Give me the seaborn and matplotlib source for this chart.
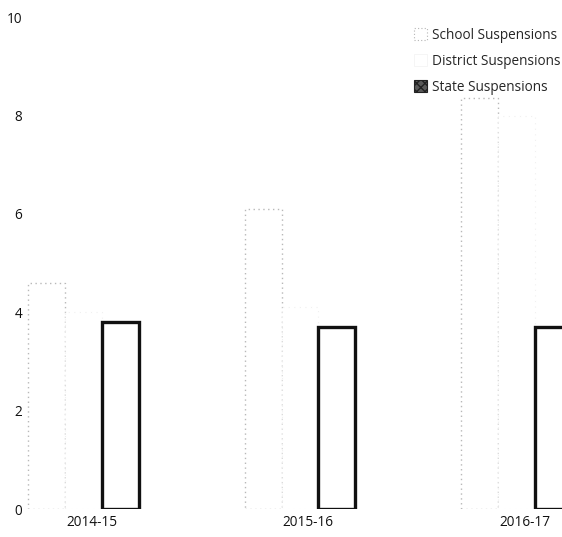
import matplotlib
matplotlib.use("Agg")
import matplotlib.pyplot as plt
import matplotlib.transforms as mtransforms
from matplotlib.patches import Patch
import pandas as pd
import seaborn as sns

# Suspension rates by school year
years = ["2014-15", "2015-16", "2016-17"]
series = ["School Suspensions", "District Suspensions", "State Suspensions"]
school = [4.6, 6.1, 8.35]
district = [4.0, 4.1, 8.0]
state = [3.8, 3.7, 3.7]
y_ticks = [0, 2, 4, 6, 8, 10]

df = pd.DataFrame({
    "Year": years * 3,
    "Series": [s for s in series for _ in years],
    "Rate": school + district + state,
})

sns.set_style("white")
plt.rcParams["font.family"] = ["Open Sans", "DejaVu Sans"]

fig = plt.figure(figsize=(5.62, 5.37), dpi=100)
ax = fig.add_axes([0.0445, 0.052, 0.9555, 0.916])

sns.barplot(data=df, x="Year", y="Rate", hue="Series", order=years,
            hue_order=series, palette=["white", "white", "white"],
            width=0.51, gap=0, errorbar=None, legend=False, ax=ax)

# Outline styles for each series
styles = [
    dict(edgecolor="#b8b8b8", linewidth=1.0, linestyle=(0, (1, 2.5))),
    dict(edgecolor="#f0f0f0", linewidth=0.8, linestyle=(0, (1, 4))),
    dict(edgecolor="#111111", linewidth=2.4, linestyle="-"),
]
for container, st in zip(ax.containers, styles):
    for bar in container:
        bar.set_facecolor("white")
        bar.set_edgecolor(st["edgecolor"])
        bar.set_linewidth(st["linewidth"])
        bar.set_linestyle(st["linestyle"])

ax.set_xlim(-0.27, 2.21)
ax.set_ylim(0, 10)
ax.set_yticks(y_ticks)
ax.set_yticklabels([str(t) for t in y_ticks])
ax.set_xlabel("")
ax.set_ylabel("")
ax.tick_params(axis="both", length=0, labelsize=9.8, colors="#111111")
ax.tick_params(axis="y", pad=2)
ax.tick_params(axis="x", pad=4)
sns.despine(ax=ax, left=True, bottom=True)

# Category labels sit a little right of the cluster centres
shift = mtransforms.ScaledTranslation(8 / 100, 0, fig.dpi_scale_trans)
for lbl in ax.get_xticklabels():
    lbl.set_transform(lbl.get_transform() + shift)

handles = [
    Patch(facecolor="white", edgecolor="#b5b5b5", linestyle=(0, (1, 2)), linewidth=0.8),
    Patch(facecolor="white", edgecolor="#f2f2f2", linewidth=0.5),
    Patch(facecolor="#5a5a5a", edgecolor="#222222", hatch="xxxx", linewidth=0.8),
]
fig.legend(handles, series, loc="upper right", bbox_to_anchor=(1.0, 0.951),
           frameon=False, fontsize=9.8, handlelength=1.0, handleheight=1.0,
           handletextpad=0.35, labelspacing=0.82, borderaxespad=0.0,
           borderpad=0.1)

fig.savefig("out.png", dpi=100)
